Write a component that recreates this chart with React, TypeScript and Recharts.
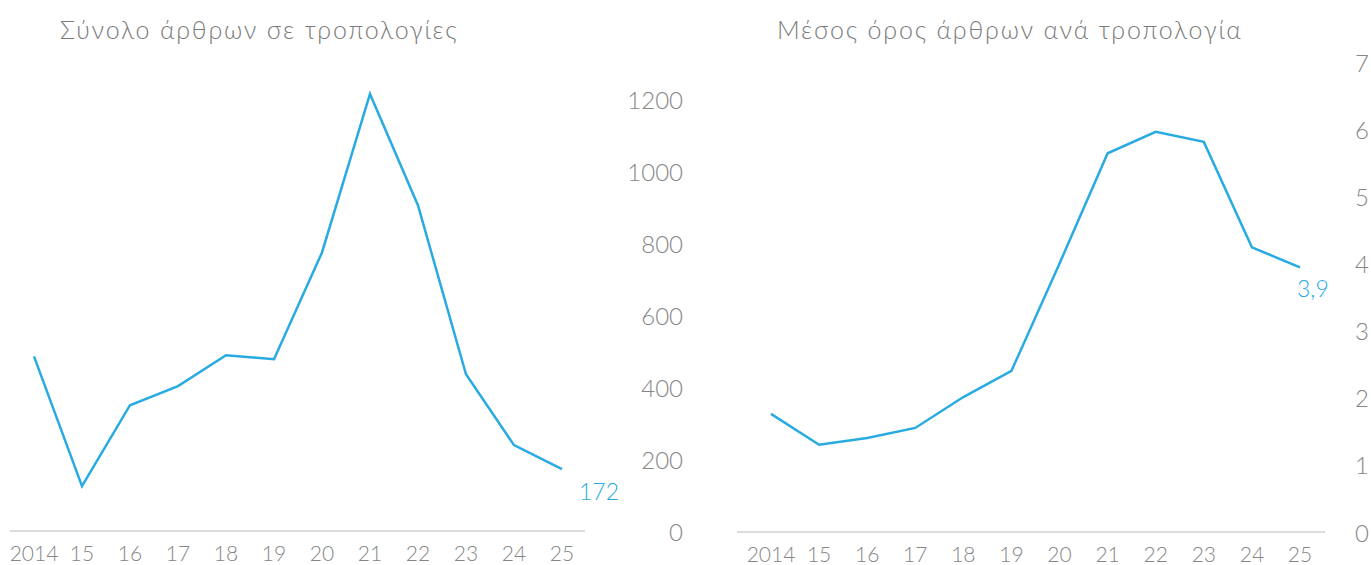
import { LineChart, Line, XAxis, YAxis } from "recharts";

const years = ["2014", "15", "16", "17", "18", "19", "20", "21", "22", "23", "24", "25"];
const totalArticles = [486, 125, 350, 403, 489, 478, 775, 1216, 906, 436, 239, 172];
const avgArticles = [1.76, 1.3, 1.4, 1.55, 2.01, 2.4, 4.0, 5.64, 5.96, 5.81, 4.24, 3.94];
const totalTicks = [0, 200, 400, 600, 800, 1000, 1200];
const avgTicks = [0, 1, 2, 3, 4, 5, 6, 7];

const BLUE = "#29abe2";
const GREY = "#868686";
const FONT = "Lato, 'Open Sans', sans-serif";

const totalData = years.map((year, i) => ({ year, value: totalArticles[i] }));
const avgData = years.map((year, i) => ({ year, value: avgArticles[i] }));

// right-aligned y tick labels, shifted right of the axis
function rightTick(offset: number) {
  return (p: any) => (
    <text
      x={p.x + offset}
      y={p.y}
      textAnchor="end"
      dominantBaseline="central"
      fill={GREY}
      fontSize={24}
      fontWeight={300}
      fontFamily={FONT}
    >
      {p.payload.value}
    </text>
  );
}

// only the last point gets a value label
function lastLabel(dx: number, dy: number, fmt: (v: number) => string) {
  return (p: any) =>
    p.index === years.length - 1 ? (
      <text
        x={p.x + dx}
        y={p.y + dy}
        dominantBaseline="central"
        fill={BLUE}
        fontSize={23}
        fontWeight={300}
        fontFamily={FONT}
      >
        {fmt(p.value)}
      </text>
    ) : null;
}

const title: React.CSSProperties = {
  position: "absolute",
  top: 14,
  fontFamily: FONT,
  fontWeight: 300,
  fontSize: 25,
  letterSpacing: 1.8,
  color: "#7a7a7a",
  whiteSpace: "nowrap",
};

const xTick = { fill: GREY, fontSize: 21, fontWeight: 300, fontFamily: FONT };

export default function App() {
  return (
    <div
      style={{
        position: "absolute",
        left: 0,
        top: 0,
        width: 1371,
        height: 565,
        overflow: "hidden",
        background: "#fff",
      }}
    >
      <div style={{ ...title, left: 60 }}>Σύνολο άρθρων σε τροπολογίες</div>
      <div style={{ ...title, left: 777 }}>Μέσος όρος άρθρων ανά τροπολογία</div>

      <div style={{ position: "absolute", left: 0, top: 0 }}>
        <LineChart width={700} height={565} data={totalData} margin={{ top: 94, right: 15, bottom: 4, left: 10 }}>
          <XAxis
            dataKey="year"
            padding={{ left: 24, right: 23 }}
            axisLine={{ stroke: "#dcdcdc", strokeWidth: 2 }}
            tickLine={false}
            tickSize={0}
            tickMargin={15}
            height={30}
            interval={0}
            tick={xTick}
          />
          <YAxis
            orientation="right"
            domain={[0, "dataMax"]}
            ticks={totalTicks}
            width={100}
            axisLine={false}
            tickLine={false}
            tick={rightTick(90)}
          />
          <Line
            dataKey="value"
            stroke={BLUE}
            strokeWidth={2.5}
            dot={false}
            isAnimationActive={false}
            label={lastLabel(17, 22, (v) => String(v))}
          />
        </LineChart>
      </div>

      <div style={{ position: "absolute", left: 727, top: 0 }}>
        <LineChart width={700} height={565} data={avgData} margin={{ top: 62, right: 2, bottom: 3, left: 10 }}>
          <XAxis
            dataKey="year"
            padding={{ left: 34, right: 25 }}
            axisLine={{ stroke: "#dcdcdc", strokeWidth: 2 }}
            tickLine={false}
            tickSize={0}
            tickMargin={15}
            height={30}
            interval={0}
            tick={xTick}
          />
          <YAxis
            orientation="right"
            domain={[0, 7]}
            ticks={avgTicks}
            width={100}
            axisLine={false}
            tickLine={false}
            tick={rightTick(36)}
          />
          <Line
            dataKey="value"
            stroke={BLUE}
            strokeWidth={2.5}
            dot={false}
            isAnimationActive={false}
            label={lastLabel(-3, 21, (v) => v.toFixed(1).replace(".", ","))}
          />
        </LineChart>
      </div>
    </div>
  );
}
